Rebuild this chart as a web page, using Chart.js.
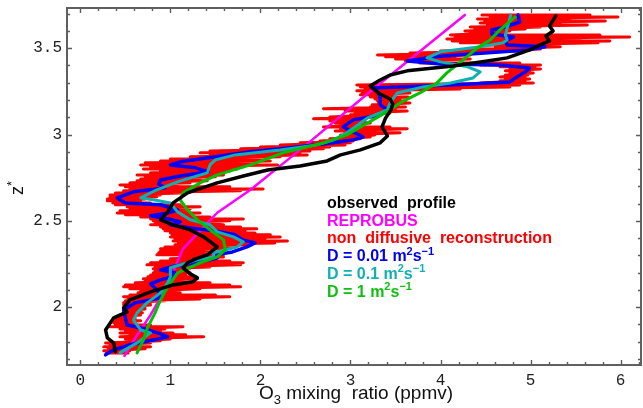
<!DOCTYPE html>
<html>
<head>
<meta charset="utf-8">
<title>O3 profiles</title>
<script src="https://cdn.jsdelivr.net/npm/chart.js@4.4.0/dist/chart.umd.min.js"></script>
<style>
  html, body { margin: 0; padding: 0; background: #fff; }
</style>
</head>
<body>
<canvas id="o3_chart" width="643" height="408"></canvas>
<script>
// profiles: [O3 mixing ratio (ppmv), z*]
var observed = [
  [5.28,3.687],[5.21,3.629],[5.25,3.600],[5.17,3.571],[5.21,3.542],[5.08,3.513],[4.99,3.490],
  [4.74,3.444],[4.52,3.426],[4.14,3.397],[3.63,3.369],[3.44,3.345],[3.33,3.316],[3.22,3.282],
  [3.31,3.241],[3.44,3.206],[3.47,3.177],[3.45,3.143],[3.39,3.096],[3.35,3.044],[3.41,2.992],
  [3.33,2.952],[3.11,2.911],[2.89,2.882],[2.74,2.847],[2.44,2.818],[2.08,2.795],[1.81,2.760],
  [1.52,2.720],[1.19,2.662],[1.03,2.604],[0.97,2.552],[0.89,2.506],[1.03,2.477],[1.22,2.448],
  [1.37,2.407],[1.52,2.349],[1.41,2.303],[1.28,2.280],[1.19,2.257],[1.14,2.228],[1.22,2.193],
  [1.30,2.170],[1.25,2.147],[1.03,2.129],[0.78,2.089],[0.55,2.042],[0.48,1.996],[0.52,1.973],
  [0.37,1.938],[0.28,1.868],[0.30,1.822],[0.37,1.793],[0.39,1.742]
];

var reprobus = [
  [4.27,3.693],[3.24,3.258],[2.44,2.911],[1.89,2.680],[1.52,2.547],[1.14,2.338],
  [1.05,2.228],[0.94,2.100],[0.78,1.955],[0.61,1.822],[0.49,1.718]
];

var diffD001 = [
  [4.86,3.693],[4.88,3.652],[4.72,3.623],[4.57,3.606],[4.57,3.583],[4.81,3.565],[4.72,3.542],
  [4.74,3.519],[5.16,3.508],[4.97,3.490],[4.33,3.467],[3.94,3.450],[3.63,3.426],[4.00,3.409],
  [4.66,3.403],[4.99,3.386],[4.94,3.363],[4.83,3.328],[4.77,3.305],[4.11,3.287],[3.24,3.270],
  [3.31,3.241],[3.33,3.212],[3.33,3.172],[3.41,3.143],[3.33,3.114],[3.03,3.085],[2.92,3.044],
  [3.03,3.015],[3.14,2.986],[3.03,2.969],[2.81,2.952],[2.33,2.923],[1.89,2.900],[1.50,2.871],
  [1.11,2.842],[1.00,2.824],[1.28,2.807],[1.42,2.784],[1.11,2.760],[0.89,2.737],[0.87,2.714],
  [0.94,2.691],[0.59,2.668],[0.41,2.633],[0.50,2.604],[0.89,2.593],[1.08,2.564],[0.98,2.546],
  [0.78,2.529],[0.98,2.511],[1.11,2.494],[1.00,2.477],[1.22,2.459],[1.50,2.442],[1.72,2.419],
  [1.80,2.390],[1.94,2.372],[1.85,2.349],[1.69,2.320],[1.50,2.303],[1.52,2.285],[1.33,2.262],
  [1.05,2.239],[0.89,2.216],[1.05,2.199],[1.02,2.176],[0.89,2.158],[0.78,2.135],[0.87,2.089],
  [0.89,2.054],[0.61,2.025],[0.48,1.984],[0.50,1.938],[0.52,1.897],[0.72,1.874],[0.89,1.845],
  [0.97,1.828],[0.81,1.810],[0.55,1.782],[0.37,1.753],[0.28,1.724]
];

var diffD01 = [
  [4.78,3.693],[4.75,3.635],[4.72,3.577],[4.74,3.548],[4.69,3.531],[4.44,3.508],[4.00,3.479],
  [3.85,3.444],[4.00,3.421],[4.30,3.392],[4.44,3.363],[4.36,3.328],[4.11,3.299],[3.81,3.276],
  [3.52,3.241],[3.44,3.183],[3.41,3.143],[3.19,3.096],[3.05,3.044],[2.96,3.010],[2.81,2.969],
  [2.63,2.940],[2.22,2.911],[1.72,2.882],[1.50,2.853],[1.44,2.824],[1.41,2.778],[1.08,2.726],
  [0.85,2.680],[0.67,2.633],[0.81,2.622],[1.00,2.604],[1.08,2.552],[1.22,2.506],[1.44,2.477],
  [1.52,2.436],[1.70,2.407],[1.81,2.378],[1.74,2.349],[1.48,2.315],[1.48,2.291],[1.30,2.274],
  [1.00,2.228],[1.00,2.176],[0.97,2.141],[0.89,2.083],[0.74,2.025],[0.63,1.967],[0.59,1.926],
  [0.67,1.868],[0.78,1.851],[0.63,1.793],[0.44,1.735]
];

var diffD1 = [
  [4.83,3.681],[4.66,3.606],[4.55,3.548],[4.41,3.502],[4.25,3.432],[4.07,3.357],[3.96,3.299],
  [3.77,3.241],[3.55,3.183],[3.44,3.143],[3.25,3.085],[3.11,3.044],[2.96,2.998],[2.74,2.957],
  [2.25,2.894],[1.89,2.824],[1.52,2.766],[1.33,2.720],[1.14,2.662],[1.11,2.622],[1.19,2.564],
  [1.30,2.506],[1.44,2.448],[1.59,2.390],[1.61,2.332],[1.52,2.291],[1.33,2.257],[1.08,2.199],
  [0.97,2.118],[0.89,2.042],[0.83,1.967],[0.75,1.886],[0.70,1.810],[0.63,1.735]
];

// non diffusive reconstruction: [z*, left excursion, right excursion] per level
var nonDiffRows = [
  [3.693,4.46,5.66],[3.681,4.55,5.97],[3.670,4.41,5.44],[3.658,4.49,5.83],[3.646,4.44,5.33],
  [3.635,4.52,5.63],[3.623,4.33,5.11],[3.612,4.38,4.94],[3.600,4.27,4.77],[3.589,4.33,4.72],
  [3.577,4.11,5.77],[3.565,4.16,6.10],[3.554,4.07,5.55],[3.542,4.13,5.88],[3.531,4.22,5.75],
  [3.519,4.52,5.22],[3.508,4.61,5.33],[3.496,4.44,5.11],[3.484,4.00,4.88],[3.473,3.66,4.44],
  [3.461,3.30,4.33],[3.450,3.39,4.16],[3.438,3.50,4.33],[3.426,3.61,3.88],[3.415,3.77,4.88],
  [3.403,4.44,5.11],[3.392,4.66,5.05],[3.380,4.77,5.11],[3.369,4.72,4.99],[3.357,4.77,5.03],
  [3.345,4.72,4.97],[3.334,4.66,4.94],[3.322,4.72,4.99],[3.311,4.66,4.94],[3.299,4.44,5.03],
  [3.287,3.07,4.88],[3.276,3.11,4.77],[3.264,3.16,4.22],[3.253,3.07,3.55],[3.241,3.13,3.66],
  [3.230,3.11,3.50],[3.218,3.22,3.64],[3.206,3.27,3.55],[3.195,3.30,3.61],[3.183,3.31,3.66],
  [3.172,3.24,3.53],[3.160,3.22,3.61],[3.149,2.70,3.50],[3.137,2.94,3.63],[3.125,3.05,3.44],
  [3.114,3.00,3.33],[3.102,2.77,3.27],[3.091,2.59,3.11],[3.079,2.77,3.16],[3.067,2.83,3.22],
  [3.056,2.89,3.11],[3.044,2.70,3.44],[3.033,2.89,3.63],[3.021,2.83,3.33],[3.010,2.94,3.55],
  [2.998,2.89,3.27],[2.986,2.94,3.22],[2.975,2.77,3.11],[2.963,2.66,3.03],[2.952,2.44,3.00],
  [2.940,2.22,2.94],[2.928,2.00,2.77],[2.917,1.78,2.70],[2.905,1.44,2.55],[2.894,1.33,2.44],
  [2.882,1.44,2.52],[2.871,1.22,2.22],[2.859,1.00,2.00],[2.847,0.89,2.11],[2.836,0.72,1.89],
  [2.824,0.67,2.19],[2.813,0.78,1.78],[2.801,0.70,1.74],[2.789,0.89,1.66],[2.778,0.78,1.55],
  [2.766,0.63,1.59],[2.755,0.72,1.50],[2.743,0.67,1.33],[2.732,0.63,1.41],[2.720,0.55,1.22],
  [2.708,0.44,1.08],[2.697,0.50,1.66],[2.685,0.55,2.03],[2.674,0.48,1.78],[2.662,0.39,1.11],
  [2.650,0.33,0.89],[2.639,0.33,0.85],[2.627,0.30,0.72],[2.616,0.30,0.67],[2.604,0.36,0.78],
  [2.593,0.39,1.11],[2.581,0.52,1.33],[2.569,0.55,1.22],[2.558,0.44,1.17],[2.546,0.41,1.33],
  [2.535,0.50,1.22],[2.523,0.67,1.44],[2.511,0.78,1.81],[2.500,0.81,1.66],[2.488,0.83,1.55],
  [2.477,0.78,1.59],[2.465,0.89,1.78],[2.454,0.92,1.96],[2.442,0.94,1.83],[2.430,1.00,1.94],
  [2.419,1.02,2.11],[2.407,1.00,2.22],[2.396,1.05,2.05],[2.384,1.03,2.30],[2.372,1.09,2.16],
  [2.361,1.05,1.89],[2.349,0.94,1.72],[2.338,0.89,1.59],[2.326,0.89,1.44],[2.315,0.87,1.39],
  [2.303,0.85,1.59],[2.291,1.11,1.59],[2.280,1.00,1.50],[2.268,0.89,1.66],[2.257,0.78,1.81],
  [2.245,0.74,1.78],[2.233,0.83,1.44],[2.222,0.81,1.22],[2.210,0.83,1.17],[2.199,0.81,1.22],
  [2.187,0.78,1.17],[2.176,0.75,1.28],[2.164,0.70,1.30],[2.152,0.72,1.22],[2.141,0.61,1.44],
  [2.129,0.50,1.66],[2.118,0.48,1.78],[2.106,0.55,1.33],[2.094,0.67,1.03],[2.083,0.64,1.11],
  [2.071,0.55,1.50],[2.060,0.48,1.66],[2.048,0.53,1.33],[2.037,0.50,0.94],[2.025,0.48,0.78],
  [2.013,0.48,0.78],[2.002,0.50,0.72],[1.990,0.52,0.72],[1.979,0.50,0.67],[1.967,0.49,0.69],
  [1.955,0.44,0.67],[1.944,0.42,0.61],[1.932,0.39,0.61],[1.921,0.37,0.67],[1.909,0.37,0.61],
  [1.897,0.39,0.78],[1.886,0.33,1.14],[1.874,0.44,0.94],[1.863,0.50,0.89],[1.851,0.44,1.03],
  [1.840,0.55,1.17],[1.828,0.44,1.37],[1.816,0.50,1.00],[1.805,0.61,0.89],[1.793,0.28,0.78],
  [1.782,0.33,0.67],[1.770,0.26,0.78],[1.759,0.31,0.72],[1.747,0.26,0.55],[1.735,0.29,0.53]
];

var xTicks = [0, 1, 2, 3, 4, 5, 6];
var zTicks = [2, 2.5, 3, 3.5];

var legendItems = [
  { color: '#000000', parts: [{ t: 'observed  profile' }] },
  { color: '#ff00ff', parts: [{ t: 'REPROBUS' }] },
  { color: '#ff0000', parts: [{ t: 'non  diffusive  reconstruction' }] },
  { color: '#0000ee', parts: [{ t: 'D = 0.01 m' }, { t: '2', sup: true }, { t: 's' }, { t: '\u22121', sup: true }] },
  { color: '#12b0b0', parts: [{ t: 'D = 0.1 m' }, { t: '2', sup: true }, { t: 's' }, { t: '\u22121', sup: true }] },
  { color: '#10c010', parts: [{ t: 'D = 1 m' }, { t: '2', sup: true }, { t: 's' }, { t: '\u22121', sup: true }] }
];

function toPoints(list) {
  return list.map(function (p) { return { x: p[0], y: p[1] }; });
}

// zig-zag through each level: left excursion, then right excursion
function rowsToPoints(rows) {
  var pts = [];
  rows.forEach(function (r) {
    pts.push({ x: r[1], y: r[0] });
    pts.push({ x: r[2], y: r[0] });
  });
  return pts;
}

function drawParts(ctx, parts, x, y, size, weight) {
  var cx = x;
  parts.forEach(function (p) {
    var s = (p.sup || p.sub) ? Math.round(size * 0.7) : size;
    ctx.font = weight + ' ' + s + "px 'Liberation Sans', Arial, sans-serif";
    var dy = p.sup ? -size * 0.4 : (p.sub ? size * 0.28 : 0);
    ctx.fillText(p.t, cx, y + dy);
    cx += ctx.measureText(p.t).width;
  });
  return cx - x;
}

function measureParts(ctx, parts, size, weight) {
  var w = 0;
  parts.forEach(function (p) {
    var s = (p.sup || p.sub) ? Math.round(size * 0.7) : size;
    ctx.font = weight + ' ' + s + "px 'Liberation Sans', Arial, sans-serif";
    w += ctx.measureText(p.t).width;
  });
  return w;
}

// box with inward ticks on all four sides
var frameTicks = {
  id: 'frameTicks',
  afterDatasetsDraw: function (chart) {
    var ctx = chart.ctx, a = chart.chartArea;
    var xs = chart.scales.x, ys = chart.scales.y;
    ctx.save();
    ctx.strokeStyle = '#5c5c5c';
    ctx.lineWidth = 1.4;
    ctx.beginPath();
    for (var k = -1; k <= 31; k++) {
      var v = k * 0.2;
      if (v < xs.min || v > xs.max) continue;
      var px = Math.round(xs.getPixelForValue(v)) + 0.5;
      var len = (k % 5 === 0) ? 5 : 3;
      ctx.moveTo(px, a.bottom); ctx.lineTo(px, a.bottom - len);
      ctx.moveTo(px, a.top); ctx.lineTo(px, a.top + len);
    }
    for (var j = 16; j <= 38; j++) {
      var z = j / 10;
      if (z < ys.min || z > ys.max) continue;
      var py = Math.round(ys.getPixelForValue(z)) + 0.5;
      var l2 = (j % 5 === 0) ? 5 : 3;
      ctx.moveTo(a.left, py); ctx.lineTo(a.left + l2, py);
      ctx.moveTo(a.right, py); ctx.lineTo(a.right - l2, py);
    }
    ctx.stroke();
    ctx.lineWidth = 2;
    ctx.strokeStyle = '#606060';
    ctx.strokeRect(a.left, a.top, a.right - a.left, a.bottom - a.top);
    ctx.restore();
  }
};

// legend text, axis titles with sub/superscripts
var labelsPlugin = {
  id: 'labelsPlugin',
  afterDraw: function (chart) {
    var ctx = chart.ctx;
    ctx.save();
    ctx.textAlign = 'left';
    ctx.textBaseline = 'alphabetic';

    var ly = 208;
    legendItems.forEach(function (item) {
      ctx.fillStyle = item.color;
      drawParts(ctx, item.parts, 327, ly, 16, 'bold');
      ly += 17.7;
    });

    var xTitle = [{ t: 'O' }, { t: '3', sub: true }, { t: ' mixing  ratio (ppmv)' }];
    ctx.fillStyle = '#111';
    var w = measureParts(ctx, xTitle, 19, 'normal');
    drawParts(ctx, xTitle, 356 - w / 2, 399, 19, 'normal');

    ctx.translate(23, 188);
    ctx.rotate(-Math.PI / 2);
    var zTitle = [{ t: 'z' }, { t: '*', sup: true }];
    var wz = measureParts(ctx, zTitle, 18, 'normal');
    drawParts(ctx, zTitle, -wz / 2, 0, 18, 'normal');
    ctx.restore();
  }
};

var ctx = document.getElementById('o3_chart').getContext('2d');

var chart = new Chart(ctx, {
  type: 'scatter',
  data: {
    datasets: [
      { label: 'observed profile', data: toPoints(observed), borderColor: '#000000', borderWidth: 3.5, order: 0 },
      { label: 'D = 1', data: toPoints(diffD1), borderColor: '#00c000', borderWidth: 3, order: 1 },
      { label: 'D = 0.1', data: toPoints(diffD01), borderColor: '#10b0b0', borderWidth: 3, order: 2 },
      { label: 'D = 0.01', data: toPoints(diffD001), borderColor: '#0000ff', borderWidth: 3.5, order: 3 },
      { label: 'REPROBUS', data: toPoints(reprobus), borderColor: '#ff00ff', borderWidth: 2.5, order: 4 },
      { label: 'non diffusive reconstruction', data: rowsToPoints(nonDiffRows), borderColor: '#ff0000', borderWidth: 3, order: 5 }
    ].map(function (d) {
      d.showLine = true;
      d.pointRadius = 0;
      d.pointHoverRadius = 0;
      d.fill = false;
      d.tension = 0;
      d.borderCapStyle = 'round';
      d.borderJoinStyle = 'round';
      return d;
    })
  },
  options: {
    responsive: false,
    animation: false,
    devicePixelRatio: 1,
    layout: { padding: { top: 8, right: 2, left: 0, bottom: 0 } },
    plugins: { legend: { display: false }, tooltip: { enabled: false } },
    scales: {
      x: {
        type: 'linear',
        min: -0.148,
        max: 6.226,
        afterBuildTicks: function (s) { s.ticks = xTicks.map(function (v) { return { value: v }; }); },
        afterFit: function (s) { s.height = 43; s.paddingLeft = 0; s.paddingRight = 0; },
        grid: { display: false, drawTicks: false },
        border: { display: false },
        ticks: {
          padding: 6,
          maxRotation: 0,
          autoSkip: false,
          color: '#222',
          callback: function (v) { return String(v); },
          font: { family: "'Liberation Mono', 'DejaVu Sans Mono', monospace", size: 16 }
        }
      },
      y: {
        type: 'linear',
        min: 1.665,
        max: 3.733,
        afterBuildTicks: function (s) { s.ticks = zTicks.map(function (v) { return { value: v }; }); },
        afterFit: function (s) { s.width = 67; s.paddingTop = 0; s.paddingBottom = 0; },
        grid: { display: false, drawTicks: false },
        border: { display: false },
        ticks: {
          padding: 5,
          autoSkip: false,
          color: '#222',
          callback: function (v) { return String(v); },
          font: { family: "'Liberation Mono', 'DejaVu Sans Mono', monospace", size: 16 }
        }
      }
    }
  },
  plugins: [frameTicks, labelsPlugin]
});
</script>
</body>
</html>
